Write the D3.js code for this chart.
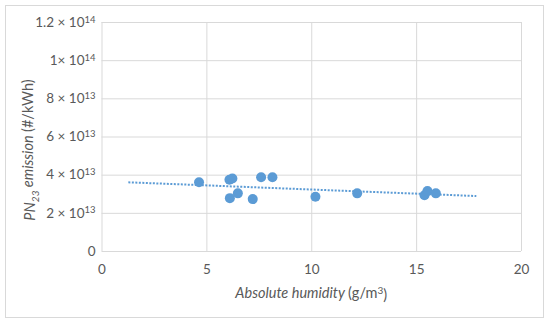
<!DOCTYPE html>
<html>
    <head>
        <style>
body { margin: 0; background: #fff; }
#d3 svg { display: block; }
text { font-family: Lato, "Noto Sans", sans-serif; fill: #595959; }
.grid line { stroke: #D9D9D9; stroke-width: 1; }
.tick text { font-size: 13.5px; }
        </style>
    </head>
    <body>
        <div id="d3"></div>
        <script src="https://d3js.org/d3.v7.min.js"></script>
        <script>

// humidity (g/m3) and PN23 emission (#/kWh)
const humidity = [4.65, 6.1, 6.24, 7.61, 8.15, 6.12, 6.5, 7.21, 10.2, 12.19, 15.4, 15.54, 15.94]
const emission = [3.6e13, 3.73e13, 3.8e13, 3.86e13, 3.86e13, 2.77e13, 3.02e13, 2.72e13, 2.84e13, 3.02e13, 2.92e13, 3.14e13, 3.02e13]

// linear trendline end points
const trendX = [1.28, 17.87]
const trendY = [3.6e13, 2.88e13]

const xTicks = [0, 5, 10, 15, 20]
const yTicks = [0, 2e13, 4e13, 6e13, 8e13, 1e14, 1.2e14]
const yTickBase = ["0", "2 \u00d7 10", "4 \u00d7 10", "6 \u00d7 10", "8 \u00d7 10", "1\u00d7 10", "1.2 \u00d7 10"]
const yTickExp = ["", "13", "13", "13", "13", "14", "14"]

const W = 550, H = 324
const margin = {top: 22, right: 29, bottom: 73, left: 101.5}
const width = W - margin.left - margin.right
const height = H - margin.top - margin.bottom
const blue = "#5B9BD5"

const svg = d3.select("#d3").append("svg")
    .attr("width", W)
    .attr("height", H)

// chart frame
svg.append("rect")
    .attr("x", 5.5).attr("y", 5.5)
    .attr("width", 538).attr("height", 312)
    .attr("fill", "#fff")
    .attr("stroke", "#D9D9D9")

const g = svg.append("g")
    .attr("transform", "translate(" + margin.left + "," + margin.top + ")")

const x = d3.scaleLinear().domain([0, 20]).range([0, width])
const y = d3.scaleLinear().domain([0, 1.2e14]).range([height, 0])

// gridlines
g.append("g")
    .attr("class", "grid")
    .call(d3.axisLeft(y).tickValues(yTicks).tickSize(-width).tickFormat(""))
    .call(a => a.select(".domain").remove())
g.append("g")
    .attr("class", "grid")
    .attr("transform", "translate(0," + height + ")")
    .call(d3.axisBottom(x).tickValues(xTicks).tickSize(-height).tickFormat(""))
    .call(a => a.select(".domain").remove())

// x tick labels
g.append("g")
    .attr("transform", "translate(0," + height + ")")
    .call(d3.axisBottom(x).tickValues(xTicks).tickSize(0).tickPadding(13).tickFormat(d3.format("d")))
    .call(a => a.select(".domain").remove())

// y tick labels with superscript exponents
const yAxis = g.append("g")
    .call(d3.axisLeft(y).tickValues(yTicks).tickSize(0).tickPadding(6).tickFormat(""))
    .call(a => a.select(".domain").remove())
yAxis.selectAll(".tick text").each(function(d, i) {
    const t = d3.select(this)
    t.append("tspan").text(yTickBase[i])
    if (yTickExp[i]) t.append("tspan")
        .attr("dy", "-0.45em")
        .style("font-size", "9.5px")
        .text(yTickExp[i])
})

// trendline
g.append("line")
    .attr("x1", x(trendX[0])).attr("y1", y(trendY[0]))
    .attr("x2", x(trendX[1])).attr("y2", y(trendY[1]))
    .attr("stroke", blue)
    .attr("stroke-width", 2)
    .attr("stroke-dasharray", "2,1.5")

// points
g.selectAll(".dot")
    .data(humidity.map((h, i) => [h, emission[i]]))
    .enter()
    .append("circle")
    .attr("class", "dot")
    .attr("cx", d => x(d[0]))
    .attr("cy", d => y(d[1]))
    .attr("r", 5)
    .attr("fill", blue)

// axis titles
const xt = svg.append("text")
    .attr("x", margin.left + width / 2)
    .attr("y", 298)
    .attr("text-anchor", "middle")
    .style("font-size", "14.5px")
xt.append("tspan").style("font-style", "italic").text("Absolute humidity ")
xt.append("tspan").text("(g/m")
xt.append("tspan").attr("dy", "-0.45em").style("font-size", "10px").text("3")
xt.append("tspan").attr("dy", "0.45em").text(")")

const yt = svg.append("text")
    .attr("transform", "translate(35,150) rotate(-90)")
    .attr("text-anchor", "middle")
    .style("font-size", "14.5px")
yt.append("tspan").style("font-style", "italic").text("PN")
yt.append("tspan").style("font-style", "italic").style("font-size", "10px").attr("dy", "0.35em").text("23")
yt.append("tspan").style("font-style", "italic").attr("dy", "-0.35em").text(" emission ")
yt.append("tspan").text("(#/kWh)")

        </script>
    </body>
</html>
